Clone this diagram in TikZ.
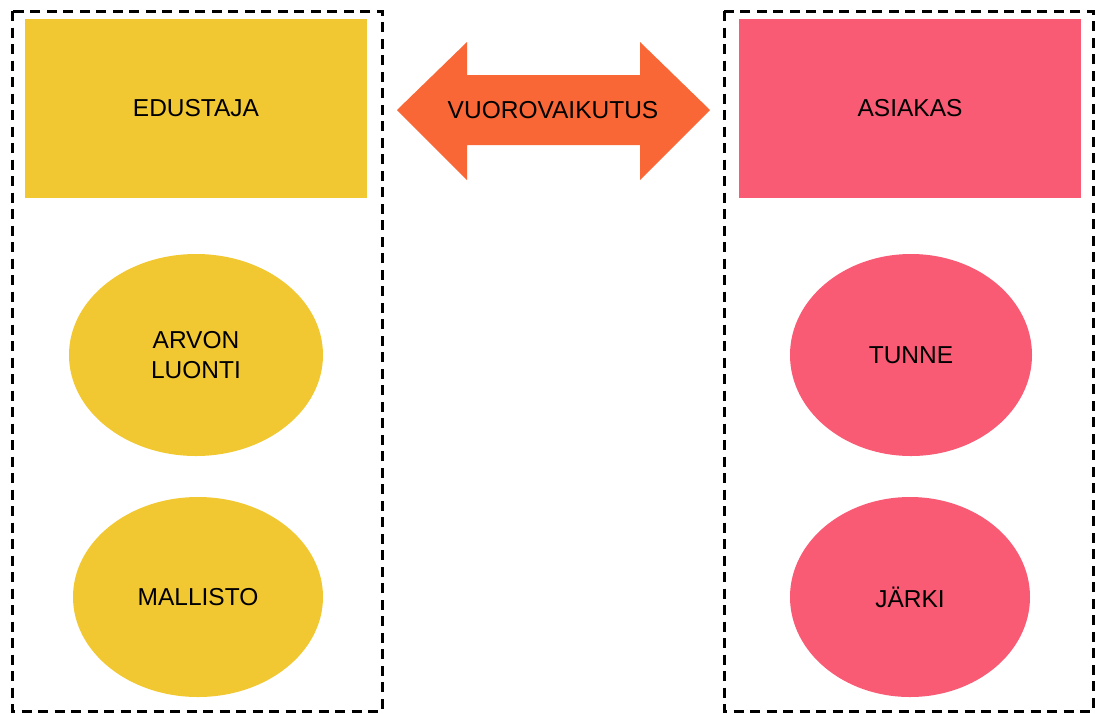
\documentclass[tikz,border=0pt]{standalone}
\usepackage{fontspec}
\setmainfont{Liberation Sans}
\usetikzlibrary{shapes.geometric}
\definecolor{ochre}{HTML}{F2C832}
\definecolor{rose}{HTML}{F95A74}
\definecolor{flame}{HTML}{F96736}
\tikzset{
  lbl/.style={font=\fontsize{24.5}{29.5}\selectfont, text=black, align=center},
  group/.style={draw=black, line width=3pt, dash pattern=on 10pt off 6.5pt},
  head/.style={lbl, inner sep=0pt},
  blob/.style={ellipse, lbl, inner sep=0pt},
}
\begin{document}
\begin{tikzpicture}[x=1pt,y=-1pt]
\useasboundingbox (0,0) rectangle (1095,713);
\fill[white] (0,0) rectangle (1095,713);

% dashed group frames
\draw[group] (12,11) rectangle (382,711);
\draw[group] (724,11) rectangle (1093,711);

% headers
\fill[ochre] (25,19) rectangle (367,198);
\node[head] (edustaja) at (196,108.5) {EDUSTAJA};
\fill[rose] (739,19) rectangle (1081,198);
\node[head] (asiakas) at (910,108.5) {ASIAKAS};

% two-way arrow
\fill[flame] (397,110) -- (467,42) -- (467,75) -- (640,75) -- (640,42)
  -- (710,110) -- (640,180) -- (640,145) -- (467,145) -- (467,180) -- cycle;
\node[head] (vuoro) at (553,110) {VUOROVAIKUTUS};

% ellipses
\node[blob, fill=ochre, minimum width=254pt, minimum height=202pt] (arvo) at (196,355) {ARVON\\LUONTI};
\node[blob, fill=ochre, minimum width=250pt, minimum height=200pt] (malli) at (198,597) {MALLISTO};
\node[blob, fill=rose, minimum width=242pt, minimum height=202pt] (tunne) at (911,355) {TUNNE};
\node[blob, fill=rose, minimum width=240pt, minimum height=200pt] (jarki) at (910,597) {JÄRKI};
\end{tikzpicture}
\end{document}
